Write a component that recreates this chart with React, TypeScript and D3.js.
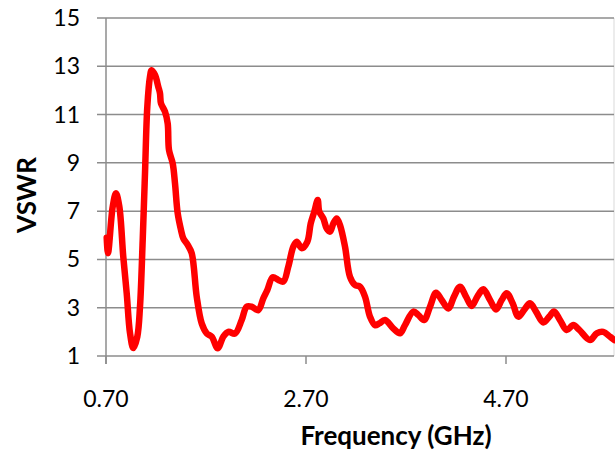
import React from 'react'
import * as d3 from 'd3'

// values
const freq = [
  0.707, 0.72, 0.767, 0.80, 0.833, 0.873, 0.907, 0.94, 0.973, 1.013, 1.04, 1.067, 1.09, 1.113,
  1.14, 1.157, 1.19, 1.223, 1.24, 1.25, 1.29, 1.317, 1.33, 1.367, 1.39, 1.417, 1.45, 1.473,
  1.517, 1.557, 1.607, 1.657, 1.707, 1.757, 1.817, 1.873, 1.923, 1.99, 2.057, 2.107, 2.157,
  2.223, 2.273, 2.313, 2.367, 2.423, 2.473, 2.523, 2.573, 2.607, 2.657, 2.713, 2.747, 2.783,
  2.817, 2.833, 2.873, 2.907, 2.94, 2.973, 3.007, 3.04, 3.09, 3.14, 3.19, 3.24, 3.29, 3.34,
  3.39, 3.433, 3.49, 3.573, 3.64, 3.69, 3.773, 3.823, 3.88, 3.94, 4.0, 4.057, 4.123, 4.18,
  4.24, 4.3, 4.357, 4.413, 4.473, 4.54, 4.6, 4.657, 4.707, 4.767, 4.823, 4.88, 4.94, 5.0,
  5.073, 5.133, 5.18, 5.24, 5.307, 5.373, 5.433, 5.54, 5.607, 5.673, 5.74, 5.783,
]
const vswr = [
  5.9, 5.26, 7.18, 7.74, 7.2, 5.1, 3.6, 1.95, 1.33, 1.8, 3.04, 5.8, 8.56, 11.32,
  12.57, 12.84, 12.64, 12.15, 11.88, 11.46, 11.12, 10.63, 9.53, 8.98, 8.15, 6.91, 6.22, 5.87,
  5.6, 5.26, 3.46, 2.35, 1.94, 1.8, 1.32, 1.8, 2.0, 1.93, 2.49, 3.04, 3.04,
  2.9, 3.39, 3.73, 4.26, 4.15, 4.08, 4.7, 5.53, 5.73, 5.46, 5.73, 6.49, 6.98,
  7.46, 6.98, 6.7, 6.28, 6.15, 6.49, 6.7, 6.42, 5.53, 4.28, 3.94, 3.87, 3.46, 2.63,
  2.28, 2.35, 2.49, 2.14, 1.94, 2.28, 2.84, 2.7, 2.49, 3.04, 3.62, 3.32, 2.97, 3.46,
  3.87, 3.46, 3.07, 3.46, 3.76, 3.32, 2.93, 3.32, 3.6, 3.18, 2.63, 2.9, 3.18, 2.84,
  2.39, 2.63, 2.84, 2.49, 2.08, 2.28, 2.08, 1.66, 1.94, 2.0, 1.8, 1.66,
]
const yTicks = [1, 3, 5, 7, 9, 11, 13, 15]
const xTicks = [0.7, 2.7, 4.7]
const xTitle = 'Frequency (GHz)'
const yTitle = 'VSWR'

const W = 615
const H = 452
const font = 'Lato, Carlito, Calibri, sans-serif'

export default function App() {
  const x = d3.scaleLinear().domain([0.7, 5.78]).range([106, 614])
  const y = d3.scaleLinear().domain([1, 15]).range([356, 18])

  const pts = freq.map((f, i) => [f, vswr[i]] as [number, number])
  const line = d3.line<[number, number]>()
    .x(d => x(d[0]))
    .y(d => y(d[1]))
    .curve(d3.curveCatmullRom.alpha(0.5))

  return (
    <svg width={W} height={H} style={{ position: 'absolute', left: 0, top: 0 }}>
      <rect width={W} height={H} fill="#fff" />
      {/* right border of the chart */}
      <line x1={614} x2={614} y1={18} y2={356} stroke="#d9d9d9" strokeWidth={1} />
      {/* horizontal gridlines + y ticks */}
      {yTicks.map(t => (
        <g key={t}>
          <line x1={97} x2={614} y1={y(t)} y2={y(t)} stroke="#8c8c8c" strokeWidth={1.5} />
          <text x={80} y={y(t)} dy="0.35em" textAnchor="end" fontFamily={font} fontSize={23} fill="#000">
            {t}
          </text>
        </g>
      ))}
      {/* y axis */}
      <line x1={106} x2={106} y1={18} y2={364} stroke="#8c8c8c" strokeWidth={1.5} />
      {/* x ticks */}
      {xTicks.map(t => (
        <g key={t}>
          <line x1={x(t)} x2={x(t)} y1={356} y2={364} stroke="#8c8c8c" strokeWidth={1.5} />
          <text x={x(t)} y={407} textAnchor="middle" fontFamily={font} fontSize={23} fill="#000">
            {t.toFixed(2)}
          </text>
        </g>
      ))}
      <path d={line(pts) ?? ''} fill="none" stroke="#ff0000" strokeWidth={6.5} strokeLinejoin="round" strokeLinecap="round" />
      <text x={396} y={445} textAnchor="middle" fontFamily={font} fontWeight="bold" fontSize={26} fill="#000">
        {xTitle}
      </text>
      <text transform="translate(36,195) rotate(-90)" textAnchor="middle" fontFamily={font} fontWeight="bold" fontSize={26} fill="#000">
        {yTitle}
      </text>
    </svg>
  )
}
